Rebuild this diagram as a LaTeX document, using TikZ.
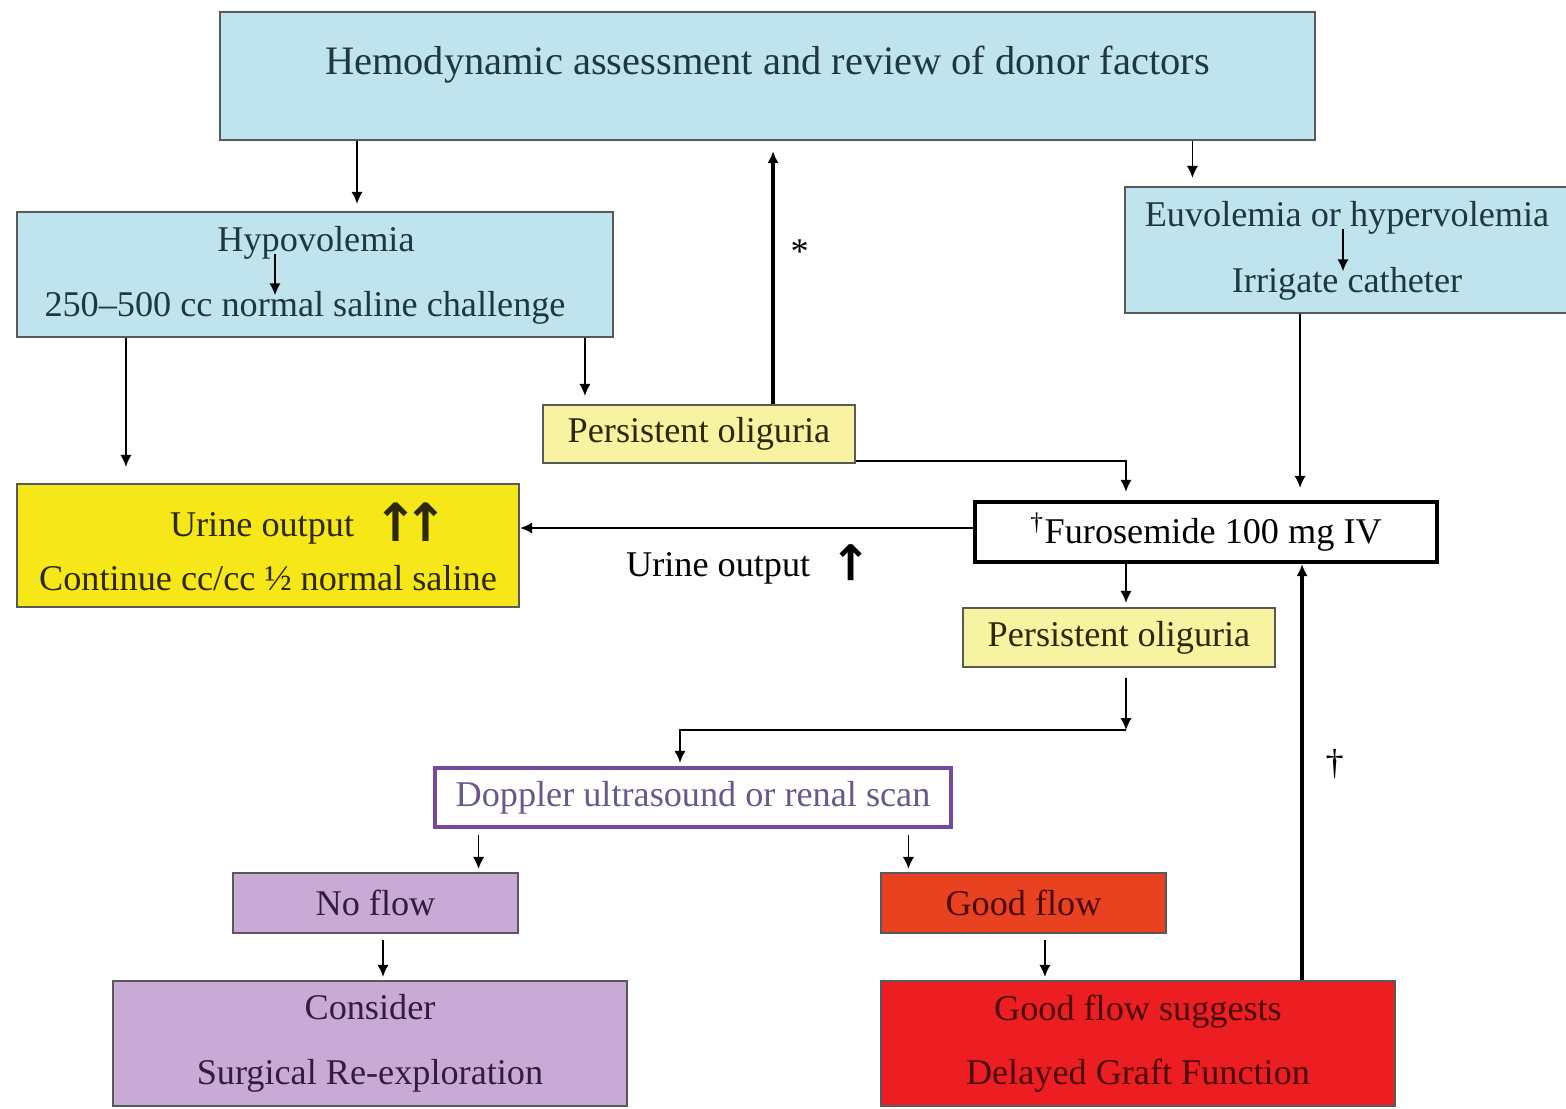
\documentclass[tikz,border=0pt]{standalone}
\usepackage{fontspec}
\setmainfont{Liberation Serif}
\newfontfamily\arrowfont{DejaVu Sans}
\usetikzlibrary{arrows.meta,calc}

\definecolor{bluebox}{RGB}{192,228,237}
\definecolor{bluetext}{RGB}{30,55,65}
\definecolor{paleyellow}{RGB}{247,243,160}
\definecolor{urineyellow}{RGB}{246,232,24}
\definecolor{yellowtext}{RGB}{45,40,10}
\definecolor{lilac}{RGB}{201,169,213}
\definecolor{lilactext}{RGB}{50,30,60}
\definecolor{orangered}{RGB}{232,66,32}
\definecolor{redbox}{RGB}{236,30,34}
\definecolor{redtext}{RGB}{75,10,10}
\definecolor{dopborder}{RGB}{118,72,162}
\definecolor{doptext}{RGB}{105,88,138}

\newcommand{\uparr}{\raisebox{-0.15em}{\rotatebox{90}{\arrowfont\bfseries →}}}

\begin{document}
\begin{tikzpicture}[x=0.01cm,y=-0.01cm]
\tikzset{box/.style = {shape=rectangle,draw=black!65,line width=0.6pt,inner sep=0pt,align=center,font=\fontsize{10.3}{12.4}\selectfont}}
\tikzset{txt/.style = {inner sep=1pt,font=\fontsize{10.3}{12.4}\selectfont}}
\tikzset{edge/.style = {-{Latex[length=3.4pt,width=3.2pt]},line width=0.5pt,shorten >=0.06cm}}
\tikzset{thickedge/.style = {edge,line width=1.1pt}}
\useasboundingbox (0,0) rectangle (1566,1109);

%boxes
% ----- top row
\node[box,fill=bluebox,text=bluetext,minimum width=10.95cm,minimum height=1.28cm,font=\fontsize{11.5}{13.8}\selectfont,text depth=0.31cm] (top) at (767.5,76) {Hemodynamic assessment and review of donor factors};

\node[box,fill=bluebox,minimum width=5.96cm,minimum height=1.25cm] (hypo) at (315,274.5) {};
\node[txt,text=bluetext] (hypoA) at (316,243) {Hypovolemia};
\node[txt,text=bluetext] (hypoB) at (305,308) {250–500 cc normal saline challenge};

\node[box,fill=bluebox,minimum width=4.45cm,minimum height=1.26cm] (euvo) at (1347.5,250) {};
\node[txt,text=bluetext] (euvoA) at (1347,218) {Euvolemia or hypervolemia};
\node[txt,text=bluetext] (euvoB) at (1347,284) {Irrigate catheter};

% ----- middle
\node[box,fill=paleyellow,text=yellowtext,minimum width=3.12cm,minimum height=0.58cm] (p1) at (699,434) {Persistent oliguria};
\node[box,fill=urineyellow,text=yellowtext,minimum width=5.02cm,minimum height=1.23cm] (urine) at (268,545.5) {\hspace*{0.76cm}Urine output\hspace{0.3cm}{\fontsize{15}{15}\selectfont\uparr\hspace{0.01cm}\uparr}\\[0.1cm]Continue cc/cc ½ normal saline};
\node[box,draw=black,line width=1.2pt,fill=white,minimum width=4.62cm,minimum height=0.60cm] (fur) at (1206,532) {\textsuperscript{†}Furosemide 100 mg IV};
\node[box,fill=paleyellow,text=yellowtext,minimum width=3.12cm,minimum height=0.59cm] (p2) at (1119,637.5) {Persistent oliguria};

% ----- bottom
\node[box,draw=dopborder,line width=1.2pt,fill=white,text=doptext,minimum width=5.16cm,minimum height=0.59cm] (dop) at (693,797.5) {Doppler ultrasound or renal scan};
\node[box,fill=lilac,text=lilactext,minimum width=2.85cm,minimum height=0.60cm] (noflow) at (375.5,903) {No flow};
\node[box,fill=lilac,text=lilactext,minimum width=5.14cm,minimum height=1.25cm] (consider) at (370,1043.5) {Consider\\[0.21cm]Surgical Re-exploration};
\node[box,fill=orangered,text=redtext,minimum width=2.85cm,minimum height=0.60cm] (goodflow) at (1023.5,903) {Good flow};
\node[box,fill=redbox,text=redtext,minimum width=5.14cm,minimum height=1.25cm] (gfs) at (1138,1043.5) {Good flow suggests\\[0.21cm]Delayed Graft Function};

\coordinate (bend) at ([xshift=0.07cm,yshift=-0.62cm]p2.south);

%edges
\draw[edge,shorten <=-0.1cm,shorten >=-0.08cm] ([xshift=-0.41cm]hypoA.south) -- ([xshift=-0.41cm]hypoA.south |- hypoB.north);
\draw[edge,shorten <=-0.1cm,shorten >=-0.08cm] ([xshift=-0.04cm]euvoA.south) -- ([xshift=-0.04cm]euvoA.south |- euvoB.north);

\draw[edge,shorten >=0.07cm] ([xshift=0.42cm]hypo.north |- top.south) -- ([xshift=0.42cm]hypo.north);
\draw[edge,shorten >=0.08cm] ([xshift=-1.55cm]euvo.north |- top.south) -- ([xshift=-1.55cm]euvo.north);
\draw[edge,shorten >=0.16cm] ([xshift=-1.42cm]urine.north |- hypo.south) -- ([xshift=-1.42cm]urine.north);
\draw[edge,shorten >=0.08cm] ([xshift=-1.14cm]p1.north |- hypo.south) -- ([xshift=-1.14cm]p1.north);
\draw[thickedge,shorten >=0.1cm] ([xshift=0.74cm]p1.north) -- ([xshift=0.74cm]p1.north |- top.south) node[pos=0.58,right=0.12cm,txt] {*};

\draw[edge,shorten >=0.08cm] ([yshift=0.03cm]p1.south east) -| ([xshift=-0.8cm]fur.north);
\draw[edge,shorten >=0.12cm] ([xshift=0.94cm]fur.north |- euvo.south) -- ([xshift=0.94cm]fur.north);
\draw[edge,shorten >=0pt] ([yshift=0.04cm]fur.west) -- ([yshift=0.04cm]urine.east |- fur.west) node[midway,below=0.1cm,txt] {Urine output\hspace{0.3cm}{\fontsize{14}{14}\selectfont\uparr}};
\draw[edge,shorten >=0.04cm] ([xshift=0.07cm]p2.north |- fur.south) -- ([xshift=0.07cm]p2.north);

\draw[edge,shorten <=0.1cm,shorten >=0pt] ([xshift=0.07cm]p2.south) -- (bend);
\draw[edge,shorten >=0.03cm] (bend) -| ([xshift=-0.13cm]dop.north);
\draw[edge,shorten <=0.06cm,shorten >=0.03cm] ([xshift=1.03cm]noflow.north |- dop.south) -- ([xshift=1.03cm]noflow.north);
\draw[edge,shorten <=0.06cm,shorten >=0.03cm] ([xshift=-1.15cm]goodflow.north |- dop.south) -- ([xshift=-1.15cm]goodflow.north);
\draw[edge,shorten <=0.06cm,shorten >=0.03cm] ([xshift=0.13cm]consider.north |- noflow.south) -- ([xshift=0.13cm]consider.north);
\draw[edge,shorten <=0.06cm,shorten >=0.03cm] ([xshift=-0.93cm]gfs.north |- goodflow.south) -- ([xshift=-0.93cm]gfs.north);

\draw[thickedge,shorten >=0pt] ([xshift=1.64cm]gfs.north) -- ([xshift=1.64cm]gfs.north |- fur.south) node[pos=0.52,right=0.18cm,txt] {†};
\end{tikzpicture}
\end{document}
